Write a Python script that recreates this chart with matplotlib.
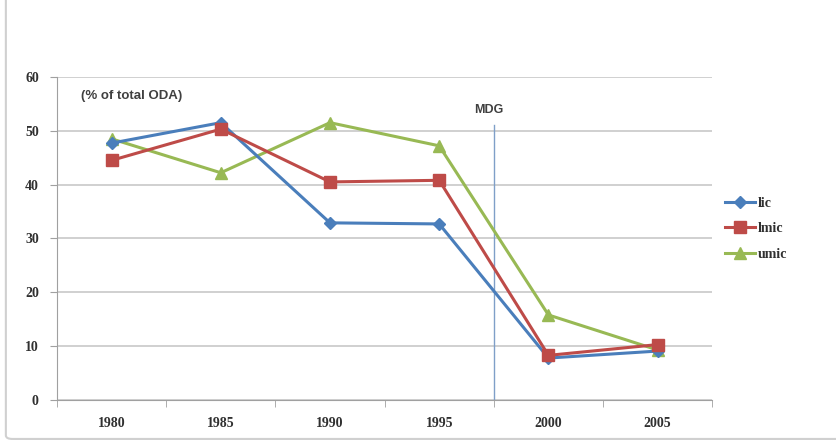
import matplotlib
matplotlib.use("Agg")
from matplotlib import pyplot as plt
from matplotlib.patches import FancyBboxPatch
import numpy as np

# data
years = ['1980', '1985', '1990', '1995', '2000', '2005']
lic = [47.7, 51.5, 32.9, 32.7, 7.8, 9.1]
lmic = [44.5, 50.3, 40.5, 40.8, 8.3, 10.3]
umic = [48.5, 42.2, 51.5, 47.2, 15.8, 9.3]
mdg_pos = 3.5      # between 1995 and 2000
mdg_top = 51.0

plt.rcParams['font.family'] = ['Liberation Serif', 'DejaVu Serif']

fig = plt.figure(figsize=(8.37, 4.47), dpi=100)
ax = fig.add_axes([0.068, 0.105, 0.783, 0.723])

# chart frame like the excel chart area
frame = FancyBboxPatch((0.007, 0.018), 1.2, 1.2, boxstyle="round,pad=0,rounding_size=0.008",
                       transform=fig.transFigure, fc='none', ec='#d0d0d0', lw=1.5, zorder=0)
fig.patches.append(frame)

x = np.arange(len(years))
ax.plot(x, lic, color='#4A7EBB', lw=2.2, marker='D', ms=6, label='lic', zorder=3)
ax.plot(x, lmic, color='#BE4B48', lw=2.2, marker='s', ms=8, label='lmic', zorder=4)
ax.plot(x, umic, color='#98B954', lw=2.2, marker='^', ms=8, label='umic', zorder=2)

ax.plot([mdg_pos, mdg_pos], [-0.5, mdg_top], color='#7f9fc8', lw=1, zorder=1)
ax.text(mdg_pos - 0.05, mdg_top + 2.8, 'MDG', ha='center', va='center', fontsize=9,
        color='#404040', fontweight='bold', family=['Liberation Sans', 'DejaVu Sans'])
ax.text(-0.28, 56.5, '(% of total ODA)', ha='left', va='center', fontsize=9.5,
        color='#404040', fontweight='bold', family=['Liberation Sans', 'DejaVu Sans'])

ax.set_xlim(-0.5, len(years) - 0.5)
ax.set_ylim(0, 60)
ax.set_yticks(np.arange(0, 61, 10))
ax.set_xticks(x)
ax.set_xticklabels(years)
ax.set_xticks(np.arange(-0.5, len(years)), minor=True)
ax.tick_params(axis='x', which='major', length=0, pad=12, labelsize=10, labelcolor='#303030')
ax.tick_params(axis='x', which='minor', length=5, color='#a0a0a0')
ax.tick_params(axis='y', length=5, color='#a0a0a0', pad=8, labelsize=10, labelcolor='#303030')
for lbl in ax.get_xticklabels() + ax.get_yticklabels():
    lbl.set_fontweight('bold')

ax.grid(axis='y', color='#c8c8c8', lw=1.2)
ax.set_axisbelow(True)
for side in ['top', 'right']:
    ax.spines[side].set_visible(False)
ax.spines['left'].set_color('#a0a0a0')
ax.spines['bottom'].set_color('#a0a0a0')

leg = ax.legend(loc='center left', bbox_to_anchor=(1.0, 0.53), frameon=False,
                fontsize=10, handlelength=2.2, labelspacing=0.9, handletextpad=0.2)
for t in leg.get_texts():
    t.set_fontweight('bold')
    t.set_color('#303030')

fig.savefig('out.png', dpi=100)
